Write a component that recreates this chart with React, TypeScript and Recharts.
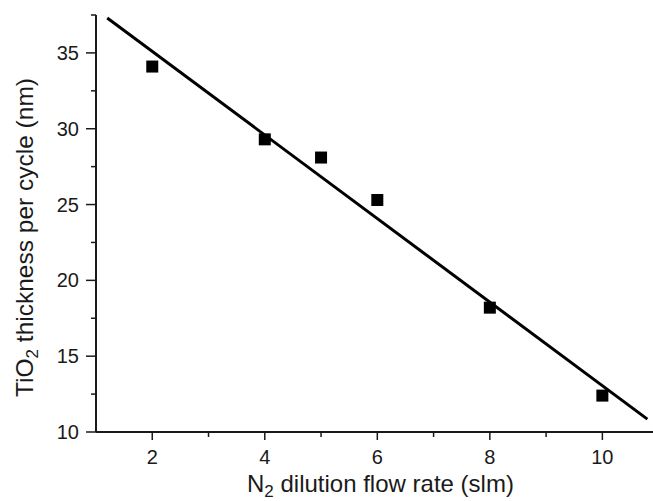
import React from 'react';
import { ComposedChart, XAxis, YAxis, Scatter, Line } from 'recharts';

const flowRates = [2, 4, 5, 6, 8, 10];
const thickness = [34.1, 29.3, 28.1, 25.3, 18.2, 12.4];
const fitX = [1.2, 10.8];
const fitY = [37.3, 10.85];
const xTicks = [2, 3, 4, 5, 6, 7, 8, 9, 10];
const xMajor = [2, 4, 6, 8, 10];
const yTicks = [10, 12.5, 15, 17.5, 20, 22.5, 25, 27.5, 30, 32.5, 35, 37.5];
const yMajor = [10, 15, 20, 25, 30, 35];

const points = flowRates.map((x, i) => ({ x, y: thickness[i] }));
const fit = fitX.map((x, i) => ({ x, y: fitY[i] }));

const FONT = '"Liberation Sans", Arial, sans-serif';
const INK = '#1a1a1a';

const XTick = (props: any) => {
  const { x, y, payload } = props;
  const major = xMajor.includes(payload.value);
  return (
    <g>
      <line x1={x} x2={x} y1={y} y2={y + (major ? 8 : 5)} stroke={INK} strokeWidth={1.5} />
      {major && (
        <text x={x} y={y + 32} textAnchor="middle" fontSize={20} fill={INK} fontFamily={FONT}>
          {payload.value}
        </text>
      )}
    </g>
  );
};

const YTick = (props: any) => {
  const { x, y, payload } = props;
  const major = yMajor.includes(payload.value);
  return (
    <g>
      <line x1={x - (major ? 10 : 5)} x2={x} y1={y} y2={y} stroke={INK} strokeWidth={1.5} />
      {major && (
        <text x={x - 17} y={y + 7} textAnchor="end" fontSize={20} fill={INK} fontFamily={FONT}>
          {payload.value}
        </text>
      )}
    </g>
  );
};

const Square = (props: any) => {
  const { cx, cy } = props;
  return <rect x={cx - 6} y={cy - 6} width={12} height={12} fill="#000" />;
};

export default function App() {
  return (
    <div style={{ position: 'absolute', left: 0, top: 0, width: 653, height: 501, background: '#fff' }}>
      <ComposedChart width={653} height={501} margin={{ top: 15, right: 0, bottom: 0, left: 0 }}>
        <XAxis
          dataKey="x"
          type="number"
          domain={[1, 10.9]}
          ticks={xTicks}
          interval={0}
          allowDataOverflow
          height={69}
          tickSize={0}
          tickMargin={0}
          tickLine={false}
          tick={<XTick />}
          axisLine={{ stroke: INK, strokeWidth: 2 }}
        />
        <YAxis
          dataKey="y"
          type="number"
          domain={[10, 37.5]}
          ticks={yTicks}
          interval={0}
          allowDataOverflow
          width={96}
          tickSize={0}
          tickMargin={0}
          tickLine={false}
          tick={<YTick />}
          axisLine={{ stroke: INK, strokeWidth: 2 }}
        />
        <Line
          data={fit}
          dataKey="y"
          type="linear"
          stroke="#000"
          strokeWidth={3}
          dot={false}
          isAnimationActive={false}
        />
        <Scatter data={points} dataKey="y" shape={<Square />} isAnimationActive={false} />
        <g>
          <text
            x={0}
            y={0}
            transform="translate(33, 397) rotate(-90)"
            fontSize={24.5}
            fill={INK}
            fontFamily={FONT}
            textAnchor="start"
          >
            <tspan>TiO</tspan>
            <tspan dy={5} fontSize={17}>2</tspan>
            <tspan dy={-5}> thickness per cycle (nm)</tspan>
          </text>
          <text x={247} y={492} fontSize={24} fill={INK} fontFamily={FONT}>
            <tspan>N</tspan>
            <tspan dy={5} fontSize={17}>2</tspan>
            <tspan dy={-5}> dilution flow rate (slm)</tspan>
          </text>
        </g>
      </ComposedChart>
    </div>
  );
}
